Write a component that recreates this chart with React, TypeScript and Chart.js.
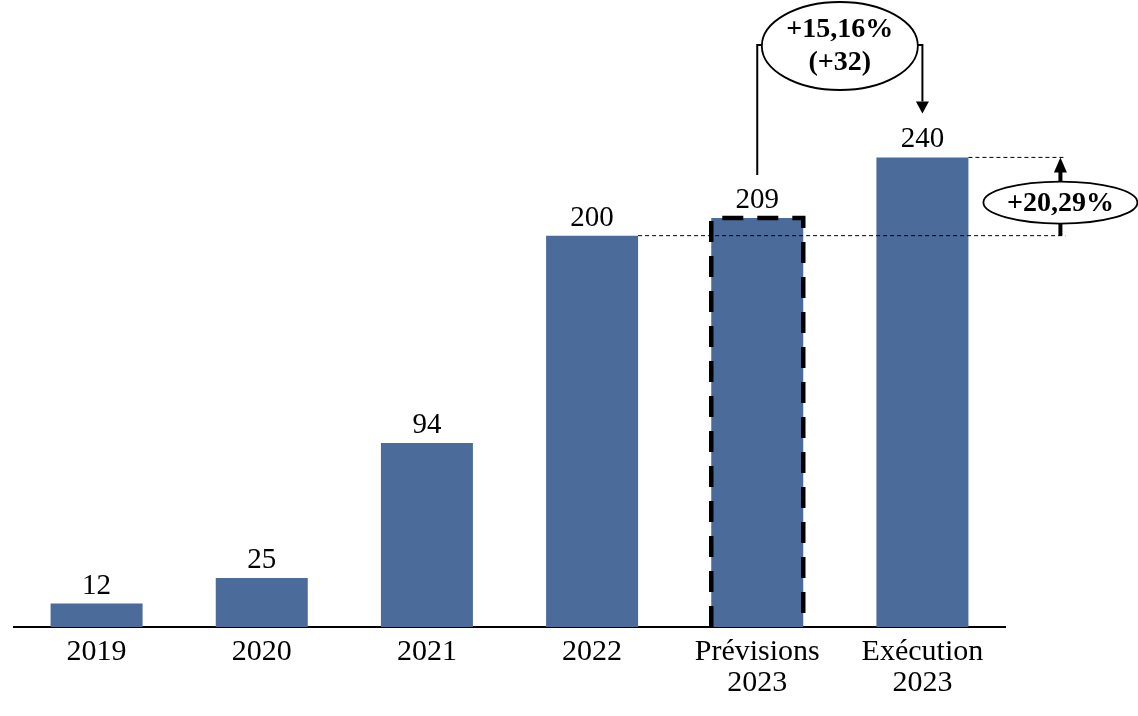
import React, { useEffect, useRef } from "react";
import { Chart, registerables } from "chart.js";

Chart.register(...registerables);

const categories: (string | string[])[] = ["2019", "2020", "2021", "2022", ["Prévisions", "2023"], ["Exécution", "2023"]];
const values: number[] = [12, 25, 94, 200, 209, 240];
const valueLabels: string[] = ["12", "25", "94", "200", "209", "240"];
const forecastChange: string[] = ["+15,16%", "(+32)"];
const yearChange: string = "+20,29%";

const BAR_COLOR = "#4B6B9A";
const FONT = "'Liberation Serif', 'Times New Roman', serif";

function arrowHead(ctx: CanvasRenderingContext2D, x: number, y: number, dir: 1 | -1, w: number, h: number) {
  ctx.beginPath();
  ctx.moveTo(x, y);
  ctx.lineTo(x - w / 2, y + dir * h);
  ctx.lineTo(x + w / 2, y + dir * h);
  ctx.closePath();
  ctx.fill();
}

function ellipse(ctx: CanvasRenderingContext2D, cx: number, cy: number, rx: number, ry: number) {
  ctx.beginPath();
  ctx.ellipse(cx, cy, rx, ry, 0, 0, Math.PI * 2);
  ctx.fillStyle = "#ffffff";
  ctx.fill();
  ctx.lineWidth = 1.8;
  ctx.strokeStyle = "#000000";
  ctx.stroke();
}

const annotationPlugin = {
  id: "annotations",
  afterDatasetsDraw(chart: any) {
    const ctx: CanvasRenderingContext2D = chart.ctx;
    const meta = chart.getDatasetMeta(0);
    const y = chart.scales.y;
    ctx.save();

    // value labels
    ctx.fillStyle = "#000";
    ctx.font = `29px ${FONT}`;
    ctx.textAlign = "center";
    ctx.textBaseline = "alphabetic";
    meta.data.forEach((bar: any, i: number) => {
      ctx.fillText(valueLabels[i], bar.x, bar.y - 10);
    });

    const b3 = meta.data[3];
    const b4 = meta.data[4];
    const b5 = meta.data[5];
    const w4 = b4.width;

    // dashed box around forecast bar
    ctx.setLineDash([21, 14]);
    ctx.lineWidth = 4.5;
    ctx.strokeStyle = "#000";
    ctx.beginPath();
    ctx.moveTo(b4.x - w4 / 2, b4.base);
    ctx.lineTo(b4.x - w4 / 2, b4.y);
    ctx.lineTo(b4.x + w4 / 2, b4.y);
    ctx.lineTo(b4.x + w4 / 2, b4.base);
    ctx.stroke();

    // thin dashed reference lines
    const y200 = y.getPixelForValue(values[3]);
    const y240 = y.getPixelForValue(values[5]);
    const xEnd = b5.x + b5.width / 2 + 97;
    ctx.setLineDash([4, 3]);
    ctx.lineWidth = 1;
    ctx.beginPath();
    ctx.moveTo(b3.x + b3.width / 2, y200);
    ctx.lineTo(xEnd, y200);
    ctx.moveTo(b5.x + b5.width / 2, y240);
    ctx.lineTo(xEnd, y240);
    ctx.stroke();
    ctx.setLineDash([]);

    // vertical arrow between 200 and 240
    const ax = b5.x + b5.width / 2 + 92;
    ctx.lineWidth = 4;
    ctx.beginPath();
    ctx.moveTo(ax, y200);
    ctx.lineTo(ax, y240 + 12);
    ctx.stroke();
    ctx.fillStyle = "#000";
    arrowHead(ctx, ax, y240, 1, 13, 15);

    const ecy = (y200 + y240) / 2 + 6;
    ellipse(ctx, ax, ecy, 77, 21);
    ctx.fillStyle = "#000";
    ctx.font = `bold 28px ${FONT}`;
    ctx.textBaseline = "middle";
    ctx.fillText(yearChange, ax, ecy + 1);

    // bracket from forecast to execution
    const topY = 45;
    const ex = (b4.x + b5.x) / 2;
    const ecy2 = 46;
    ctx.lineWidth = 2;
    ctx.strokeStyle = "#000";
    ctx.beginPath();
    ctx.moveTo(b4.x, b4.y - 43);
    ctx.lineTo(b4.x, topY);
    ctx.lineTo(ex, topY);
    ctx.stroke();
    ctx.beginPath();
    ctx.moveTo(ex, topY);
    ctx.lineTo(b5.x, topY);
    ctx.lineTo(b5.x, y240 - 56);
    ctx.stroke();
    ctx.fillStyle = "#000";
    arrowHead(ctx, b5.x, y240 - 44, -1, 13, 12);

    ellipse(ctx, ex, ecy2, 78, 44);
    ctx.fillStyle = "#000";
    ctx.font = `bold 28px ${FONT}`;
    ctx.textBaseline = "middle";
    ctx.fillText(forecastChange[0], ex, ecy2 - 16);
    ctx.fillText(forecastChange[1], ex, ecy2 + 17);

    ctx.restore();
  },
};

export default function App() {
  const ref = useRef<HTMLCanvasElement | null>(null);
  useEffect(() => {
    if (!ref.current) return;
    const chart = new Chart(ref.current, {
      type: "bar",
      data: {
        labels: categories,
        datasets: [
          {
            data: values,
            backgroundColor: BAR_COLOR,
            borderWidth: 0,
            barPercentage: 0.557,
            categoryPercentage: 1,
          },
        ],
      },
      options: {
        animation: false,
        responsive: true,
        maintainAspectRatio: false,
        layout: { padding: { left: 14, right: 133, top: 40, bottom: 7 } },
        plugins: { legend: { display: false }, tooltip: { enabled: false } },
        scales: {
          x: {
            grid: { display: false, drawTicks: false },
            border: { display: true, color: "#000", width: 2 },
            ticks: {
              color: "#000",
              font: { family: FONT, size: 30, lineHeight: 31 / 30 },
              padding: 10,
              maxRotation: 0,
              autoSkip: false,
            },
          },
          y: {
            display: false,
            min: 0,
            max: 300,
          },
        },
      },
      plugins: [annotationPlugin],
    });
    return () => chart.destroy();
  }, []);
  return (
    <div style={{ position: "absolute", left: 0, top: 0, width: 1138, height: 716, background: "#fff" }}>
      <canvas ref={ref} />
    </div>
  );
}
